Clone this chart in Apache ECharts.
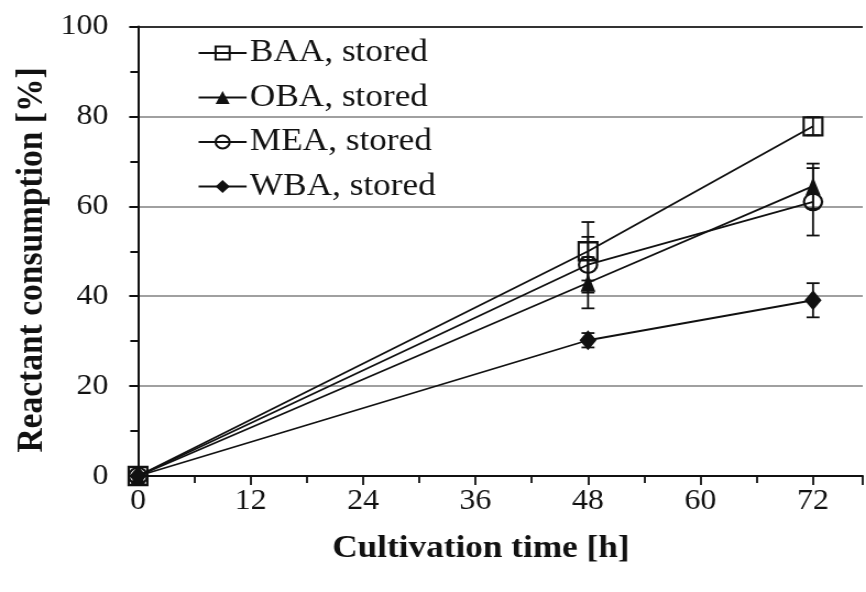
<!DOCTYPE html>
<html>
<head>
<meta charset="utf-8">
<script src="https://cdn.jsdelivr.net/npm/echarts@6/dist/echarts.min.js"></script>
<style>
  html, body { margin: 0; padding: 0; background: #fff; overflow: hidden; }
  /* the figure uses a slightly widened serif face; draw narrower and widen */
  #chart { width: 787px; height: 592px; transform: scaleX(1.1004); transform-origin: 0 0; }
</style>
</head>
<body>
<div id="chart"></div>
<script>
// Cultivation time points [h]
const hours = [0, 48, 72];

// Reactant consumption [%] and standard deviations per strain
const baa = [0, 50, 77.8];
const baaErr = [0, 6.5, 2];
const oba = [0, 43, 64.5];
const obaErr = [0, 5.7, 5];
const mea = [0, 47, 61];
const meaErr = [0, 6.2, 7.5];
const wba = [0, 30.2, 39.1];
const wbaErr = [0, 1.6, 3.8];

const seriesNames = ['BAA, stored', 'OBA, stored', 'MEA, stored', 'WBA, stored'];
const yTicks = [0, 20, 40, 60, 80, 100];
const xTicks = [0, 12, 24, 36, 48, 60, 72];

const FONT = '"Liberation Serif", "Times New Roman", serif';
const chart = echarts.init(document.getElementById('chart'), null, { renderer: 'canvas' });

function pairs(vals) {
  return hours.map((h, i) => [h, vals[i]]);
}
function errData(vals, errs) {
  return hours.map((h, i) => [h, vals[i] - errs[i], vals[i] + errs[i]]);
}

// vertical error bar with caps
function renderErr(params, api) {
  const x = api.value(0);
  const lo = api.coord([x, api.value(1)]);
  const hi = api.coord([x, api.value(2)]);
  const half = 5.9;
  const style = { stroke: '#111', lineWidth: 1.8 };
  if (Math.abs(hi[1] - lo[1]) < 0.5) return null;
  return {
    type: 'group',
    children: [
      { type: 'line', shape: { x1: lo[0], y1: lo[1], x2: hi[0], y2: hi[1] }, style },
      { type: 'line', shape: { x1: lo[0] - half, y1: lo[1], x2: lo[0] + half, y2: lo[1] }, style },
      { type: 'line', shape: { x1: hi[0] - half, y1: hi[1], x2: hi[0] + half, y2: hi[1] }, style }
    ]
  };
}

const lineStyle = { color: '#111', width: 1.8 };

function lineSeries(name, vals, symbol, size, filled) {
  return {
    name,
    type: 'line',
    data: pairs(vals),
    symbol,
    symbolSize: size,
    showAllSymbol: true,
    lineStyle,
    itemStyle: filled
      ? { color: '#111', borderColor: '#111', borderWidth: 0 }
      : { color: 'rgba(255,255,255,0)', borderColor: '#111', borderWidth: 2.2 },
    emphasis: { disabled: true },
    z: 3
  };
}

function errSeries(vals, errs) {
  return {
    type: 'custom',
    renderItem: renderErr,
    data: errData(vals, errs),
    encode: { x: 0, y: [1, 2] },
    silent: true,
    z: 4
  };
}

const option = {
  animation: false,
  backgroundColor: '#fff',
  grid: { left: 125.4, top: 26.5, bottom: 116, right: 0 },
  xAxis: {
    type: 'value',
    min: 0,
    max: 77.3,
    interval: 12,
    axisLine: { show: true, lineStyle: { color: '#111', width: 2 } },
    axisTick: { show: true, inside: false, length: 9, lineStyle: { color: '#111', width: 1.8 } },
    minorTick: { show: true, splitNumber: 2, length: 7, lineStyle: { color: '#111', width: 1.8 } },
    axisLabel: {
      margin: 11,
      fontFamily: FONT,
      fontSize: 29,
      color: '#111',
      formatter: v => (xTicks.indexOf(v) >= 0 ? String(v) : '')
    },
    splitLine: { show: false }
  },
  yAxis: {
    type: 'value',
    min: 0,
    max: 100,
    interval: 20,
    axisLine: { show: true, lineStyle: { color: '#111', width: 2 } },
    axisTick: { show: true, inside: false, length: 8, lineStyle: { color: '#111', width: 2 } },
    minorTick: { show: true, splitNumber: 2, length: 7, lineStyle: { color: '#111', width: 2 } },
    axisLabel: {
      margin: 27,
      fontFamily: FONT,
      fontSize: 29,
      color: '#111',
      formatter: v => (yTicks.indexOf(v) >= 0 ? String(v) : '')
    },
    splitLine: {
      show: true,
      lineStyle: { color: ['#111', '#a0a0a0', '#a0a0a0', '#a0a0a0', '#a0a0a0', '#333'], width: 2 }
    }
  },
  legend: {
    orient: 'vertical',
    left: 174.5,
    top: 32,
    itemWidth: 43.6,
    itemHeight: 16,
    itemGap: 12.5,
    data: seriesNames,
    textStyle: { fontFamily: FONT, fontSize: 32, color: '#111', padding: [0, 0, 0, -2] }
  },
  graphic: [
    {
      type: 'text',
      x: 29,
      y: 260,
      rotation: Math.PI / 2,
      style: {
        text: 'Reactant consumption [%]',
        fontFamily: FONT,
        fontSize: 33.5,
        fontWeight: 'bold',
        fill: '#111',
        align: 'center',
        verticalAlign: 'middle'
      }
    },
    {
      type: 'text',
      x: 437,
      y: 549,
      style: {
        text: 'Cultivation time [h]',
        fontFamily: FONT,
        fontSize: 32,
        fontWeight: 'bold',
        fill: '#111',
        align: 'center',
        verticalAlign: 'middle'
      }
    }
  ],
  series: [
    errSeries(baa, baaErr),
    errSeries(oba, obaErr),
    errSeries(mea, meaErr),
    errSeries(wba, wbaErr),
    lineSeries(seriesNames[0], baa, 'rect', [17, 18], false),
    lineSeries(seriesNames[1], oba, 'triangle', [13.5, 18], true),
    lineSeries(seriesNames[2], mea, 'circle', [16.5, 16.5], false),
    lineSeries(seriesNames[3], wba, 'diamond', [15.5, 20], true)
  ]
};

chart.setOption(option);
</script>
</body>
</html>
